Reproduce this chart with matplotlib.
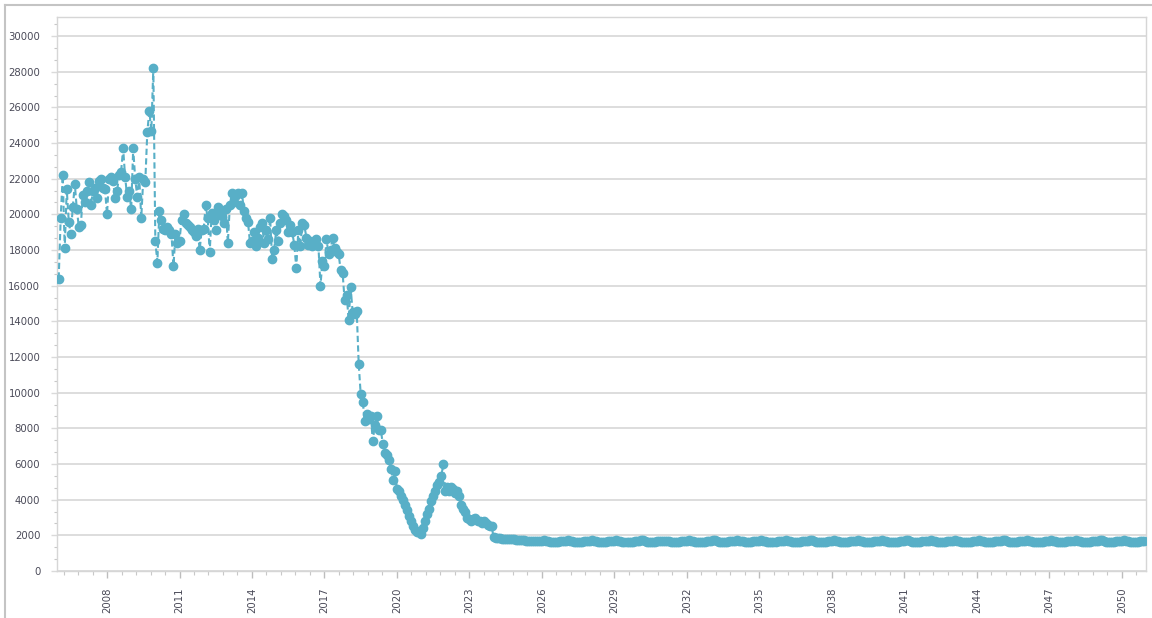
import numpy as np
import matplotlib
matplotlib.use("Agg")
import matplotlib.pyplot as plt
from matplotlib.ticker import AutoMinorLocator
from matplotlib.lines import Line2D

# Monthly observations, January 2006 - December 2023 (one row per year)
observed = [
    [16400, 19800, 22200, 18100, 21400, 19600, 18900, 20400, 21700, 20300, 19300, 19400],  # 2006
    [21100, 20700, 21300, 21800, 20500, 21300, 21500, 20900, 21900, 22000, 21500, 21400],  # 2007
    [20000, 22000, 22100, 21900, 20900, 21300, 22200, 22400, 23700, 22100, 21000, 21300],  # 2008
    [20300, 23700, 22000, 21000, 22100, 19800, 22000, 21800, 24600, 25800, 24700, 28200],  # 2009
    [18500, 17300, 20200, 19700, 19200, 19100, 19300, 19100, 18900, 17100, 18900, 18400],  # 2010
    [18500, 19700, 20000, 19500, 19400, 19300, 19100, 19000, 18800, 19200, 18000, 19100],  # 2011
    [19200, 20500, 19800, 17900, 20100, 19700, 19100, 20400, 20000, 19900, 19500, 20300],  # 2012
    [18400, 20500, 21200, 20700, 21100, 21200, 20500, 21200, 20200, 19800, 19600, 18400],  # 2013
    [18500, 19000, 18200, 18700, 19300, 19500, 18400, 19100, 18600, 19800, 17500, 18000],  # 2014
    [19100, 18500, 19500, 20000, 19900, 19700, 19000, 19400, 19000, 18300, 17000, 19100],  # 2015
    [18200, 19500, 19400, 18700, 18300, 18500, 18200, 18400, 18600, 18200, 16000, 17400],  # 2016
    [17100, 18600, 17800, 18000, 18700, 18100, 17900, 17800, 16900, 16700, 15200, 15500],  # 2017
    [14100, 15900, 14500, 14400, 14600, 11600, 9900, 9500, 8400, 8800, 8500, 8700],        # 2018
    [7300, 8200, 8700, 7900, 7900, 7100, 6600, 6500, 6200, 5700, 5100, 5600],              # 2019
    [4600, 4500, 4200, 4000, 3700, 3400, 3100, 2800, 2500, 2300, 2200, 2200],              # 2020
    [2100, 2400, 2800, 3200, 3500, 3900, 4200, 4500, 4800, 5000, 5300, 6000],              # 2021
    [4500, 4700, 4500, 4700, 4600, 4400, 4500, 4200, 3700, 3500, 3300, 3000],              # 2022
    [2900, 2800, 2900, 3000, 2800, 2800, 2700, 2800, 2700, 2600, 2500, 2500],              # 2023
]

# Monthly projection, January 2024 - December 2050 (one row per year)
projected = [
    [1900, 1870, 1850, 1830, 1820, 1800, 1780, 1790, 1800, 1790, 1770, 1760],  # 2024
    [1750, 1760, 1740, 1720, 1700, 1690, 1680, 1690, 1710, 1700, 1690, 1700],  # 2025
    [1710, 1720, 1700, 1680, 1650, 1630, 1620, 1630, 1650, 1670, 1680, 1690],  # 2026
    [1700, 1720, 1710, 1680, 1650, 1620, 1610, 1620, 1640, 1660, 1670, 1680],  # 2027
    [1690, 1720, 1700, 1670, 1640, 1620, 1600, 1620, 1650, 1660, 1680, 1690],  # 2028
    [1700, 1730, 1710, 1680, 1650, 1630, 1610, 1620, 1640, 1650, 1670, 1680],  # 2029
    [1690, 1720, 1720, 1690, 1650, 1620, 1600, 1610, 1640, 1660, 1680, 1690],  # 2030
    [1700, 1710, 1700, 1670, 1640, 1620, 1610, 1620, 1650, 1670, 1680, 1690],  # 2031
    [1690, 1720, 1710, 1680, 1650, 1620, 1600, 1610, 1630, 1650, 1670, 1690],  # 2032
    [1700, 1730, 1720, 1680, 1640, 1610, 1600, 1620, 1650, 1660, 1670, 1680],  # 2033
    [1690, 1720, 1710, 1680, 1660, 1630, 1610, 1620, 1640, 1660, 1680, 1690],  # 2034
    [1700, 1720, 1700, 1670, 1640, 1620, 1600, 1610, 1640, 1660, 1670, 1690],  # 2035
    [1700, 1730, 1710, 1680, 1650, 1620, 1610, 1620, 1650, 1660, 1680, 1690],  # 2036
    [1690, 1720, 1720, 1690, 1650, 1630, 1600, 1610, 1630, 1650, 1670, 1680],  # 2037
    [1700, 1720, 1710, 1680, 1640, 1620, 1610, 1620, 1650, 1670, 1680, 1690],  # 2038
    [1700, 1730, 1700, 1670, 1650, 1620, 1600, 1620, 1640, 1660, 1670, 1690],  # 2039
    [1690, 1720, 1710, 1680, 1650, 1630, 1610, 1610, 1640, 1650, 1680, 1690],  # 2040
    [1700, 1720, 1720, 1680, 1640, 1620, 1600, 1620, 1650, 1660, 1670, 1680],  # 2041
    [1690, 1730, 1710, 1690, 1650, 1620, 1610, 1620, 1640, 1670, 1680, 1690],  # 2042
    [1700, 1720, 1700, 1670, 1650, 1630, 1600, 1610, 1630, 1650, 1670, 1690],  # 2043
    [1700, 1730, 1710, 1680, 1640, 1620, 1610, 1620, 1650, 1660, 1680, 1690],  # 2044
    [1690, 1720, 1720, 1680, 1650, 1620, 1600, 1620, 1640, 1660, 1670, 1680],  # 2045
    [1700, 1720, 1710, 1690, 1650, 1630, 1610, 1610, 1640, 1650, 1680, 1690],  # 2046
    [1700, 1730, 1700, 1670, 1640, 1620, 1600, 1620, 1650, 1670, 1670, 1690],  # 2047
    [1690, 1720, 1710, 1680, 1650, 1620, 1610, 1620, 1640, 1660, 1680, 1690],  # 2048
    [1700, 1730, 1720, 1680, 1650, 1630, 1600, 1610, 1650, 1660, 1670, 1680],  # 2049
    [1690, 1720, 1710, 1690, 1650, 1620, 1610, 1620, 1640, 1660, 1680, 1690],  # 2050
]

start_year = 2006
tick_years = [2008, 2011, 2014, 2017, 2020, 2023, 2026, 2029,
              2032, 2035, 2038, 2041, 2044, 2047, 2050]
y_ticks = list(range(0, 30001, 2000))

series_color = "#58AFC7"
grid_color = "#dadada"
text_color = "#4a4a58"

values = np.array([v for row in observed + projected for v in row], dtype=float)
t = start_year + np.arange(len(values)) / 12.0

W, H = 1152, 618
fig = plt.figure(figsize=(W / 100, H / 100), dpi=100)
fig.patch.set_facecolor("white")

ax = fig.add_axes([57 / W, 1 - 571 / H, (1146 - 57) / W, (571 - 17) / H])

ax.plot(t, values, color=series_color, linestyle=(0, (3, 1.6)), linewidth=1.5,
        marker="o", markersize=6, markerfacecolor=series_color,
        markeredgecolor=series_color, zorder=3)

ax.set_xlim(2005.93, 2051.0)
ax.set_ylim(0, 31070)

ax.set_yticks(y_ticks)
ax.set_yticklabels([str(v) for v in y_ticks])
ax.yaxis.set_minor_locator(AutoMinorLocator(3))

ax.set_xticks(tick_years)
ax.set_xticklabels([str(y) for y in tick_years], rotation=90)
ax.xaxis.set_minor_locator(AutoMinorLocator(5))

ax.yaxis.grid(True, which="major", color=grid_color, linewidth=1.3)
ax.set_axisbelow(True)

for side in ["left", "right", "top", "bottom"]:
    ax.spines[side].set_color("#d6d6d6")
    ax.spines[side].set_linewidth(1.0)

ax.tick_params(axis="y", which="major", length=4, width=1, color=grid_color,
               labelsize=7.3, labelcolor=text_color, pad=8)
ax.tick_params(axis="y", which="minor", length=2.5, width=0.8, color="#c8c8c8")
ax.tick_params(axis="x", which="major", length=5, width=1, color="#bdbdbd",
               labelsize=7.3, labelcolor=text_color, pad=7)
ax.tick_params(axis="x", which="minor", length=3, width=0.8, color="#c8c8c8")

# Outer panel border (top and left edges)
fig.add_artist(Line2D([5 / W, 5 / W], [0, 1 - 5 / H], transform=fig.transFigure,
                      color="#c4c4c4", linewidth=1.5))
fig.add_artist(Line2D([5 / W, 1], [1 - 5 / H, 1 - 5 / H], transform=fig.transFigure,
                      color="#c4c4c4", linewidth=1.5))

fig.savefig("out.png", dpi=100, facecolor="white")
